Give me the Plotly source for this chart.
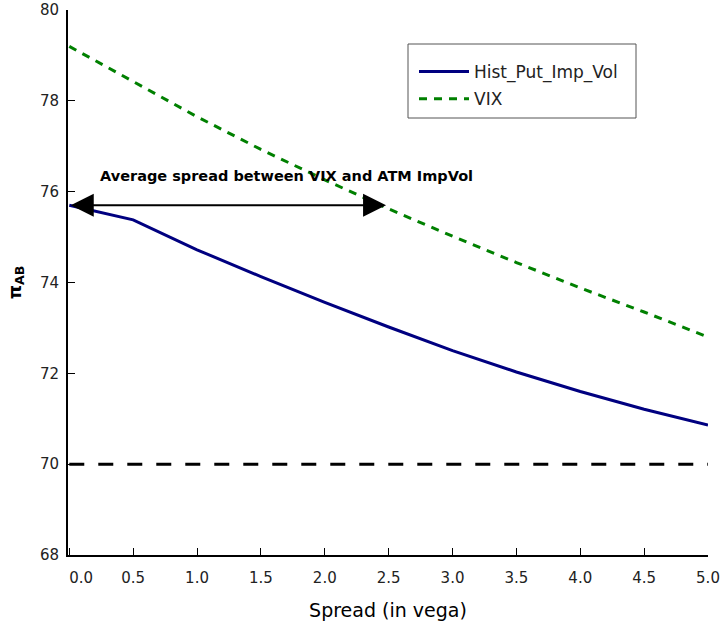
import plotly.graph_objects as go

spread = [0.0, 0.5, 1.0, 1.5, 2.0, 2.5, 3.0, 3.5, 4.0, 4.5, 5.0]
hist_put_imp_vol = [75.70, 75.38, 74.72, 74.13, 73.56, 73.02, 72.50, 72.03, 71.60, 71.21, 70.86]
vix = [79.20, 78.42, 77.65, 76.93, 76.26, 75.62, 75.02, 74.44, 73.88, 73.35, 72.80]
baseline_x = [0.0, 5.0]
baseline_y = [70.0, 70.0]
arrow_y = 75.70
arrow_x0 = 0.0
arrow_x1 = 2.48
label_text = "Average spread between VIX and ATM ImpVol"
label_x = 1.70
label_y = 76.35
x_ticks = [0.0, 0.5, 1.0, 1.5, 2.0, 2.5, 3.0, 3.5, 4.0, 4.5, 5.0]
x_ticktext = ["\u00a0\u00a0\u00a0\u00a0\u00a00.0", "0.5", "1.0", "1.5", "2.0", "2.5", "3.0", "3.5", "4.0", "4.5", "5.0"]
y_ticks = [68, 70, 72, 74, 76, 78, 80]

FONT = "DejaVu Sans"

fig = go.Figure()
fig.add_trace(go.Scatter(x=spread, y=hist_put_imp_vol, mode="lines", name="Hist_Put_Imp_Vol",
                         legendgroup="a", line=dict(color="#000080", width=3)))
fig.add_trace(go.Scatter(x=spread, y=vix, mode="lines", name="VIX", legendgroup="b",
                         line=dict(color="#008000", width=3, dash="8px,7px")))
fig.add_trace(go.Scatter(x=baseline_x, y=baseline_y, mode="lines", showlegend=False,
                         line=dict(color="black", width=3, dash="15px,14px")))

fig.add_annotation(x=arrow_x1, y=arrow_y, ax=arrow_x0, ay=arrow_y, xref="x", yref="y",
                   axref="x", ayref="y", text="", showarrow=True,
                   arrowhead=2, startarrowhead=2, arrowside="end+start",
                   arrowsize=2.3, startarrowsize=2.3, arrowwidth=2, arrowcolor="black")
fig.add_annotation(x=label_x, y=label_y, xref="x", yref="y", text="<b>" + label_text + "</b>",
                   showarrow=False, font=dict(family=FONT, size=14.5, color="black"))

# legend frame
fig.add_shape(type="rect", xref="paper", yref="paper",
              x0=(408 - 68) / 640, x1=(636 - 68) / 640,
              y0=(555 - 118) / 545, y1=(555 - 44) / 545,
              line=dict(color="#555", width=1), fillcolor="white", layer="below")

fig.update_layout(
    width=722, height=624,
    margin=dict(l=68, r=14, t=10, b=69, autoexpand=False),
    plot_bgcolor="rgba(0,0,0,0)", paper_bgcolor="white",
    font=dict(family=FONT, color="#222"),
    legend=dict(x=(414 - 68) / 640, y=(555 - 54) / 545, xanchor="left", yanchor="top",
                borderwidth=0, bgcolor="rgba(0,0,0,0)",
                font=dict(family=FONT, size=17, color="#222"),
                itemwidth=50, tracegroupgap=2),
    xaxis=dict(range=[-0.01, 5.0], tickvals=x_ticks, ticktext=x_ticktext, automargin=False,
               showgrid=False, zeroline=False, showline=True, linecolor="black", linewidth=2,
               ticks="inside", ticklen=7, tickwidth=1, tickcolor="black", ticklabelstandoff=8,
               tickfont=dict(family=FONT, size=15, color="#222"),
               title=dict(text="Spread (in vega)", font=dict(family=FONT, size=19, color="black"), standoff=18)),
    yaxis=dict(range=[68, 80], tickvals=y_ticks, automargin=False,
               showgrid=False, zeroline=False, showline=True, linecolor="black", linewidth=2,
               ticks="inside", ticklen=7, tickwidth=1, tickcolor="black", ticklabelstandoff=4,
               tickfont=dict(family=FONT, size=15, color="#222"),
               title=dict(text="<b>\u03c0<sub>AB</sub></b>", font=dict(family=FONT, size=18, color="black"), standoff=14)),
)

fig.write_html("out.html")
